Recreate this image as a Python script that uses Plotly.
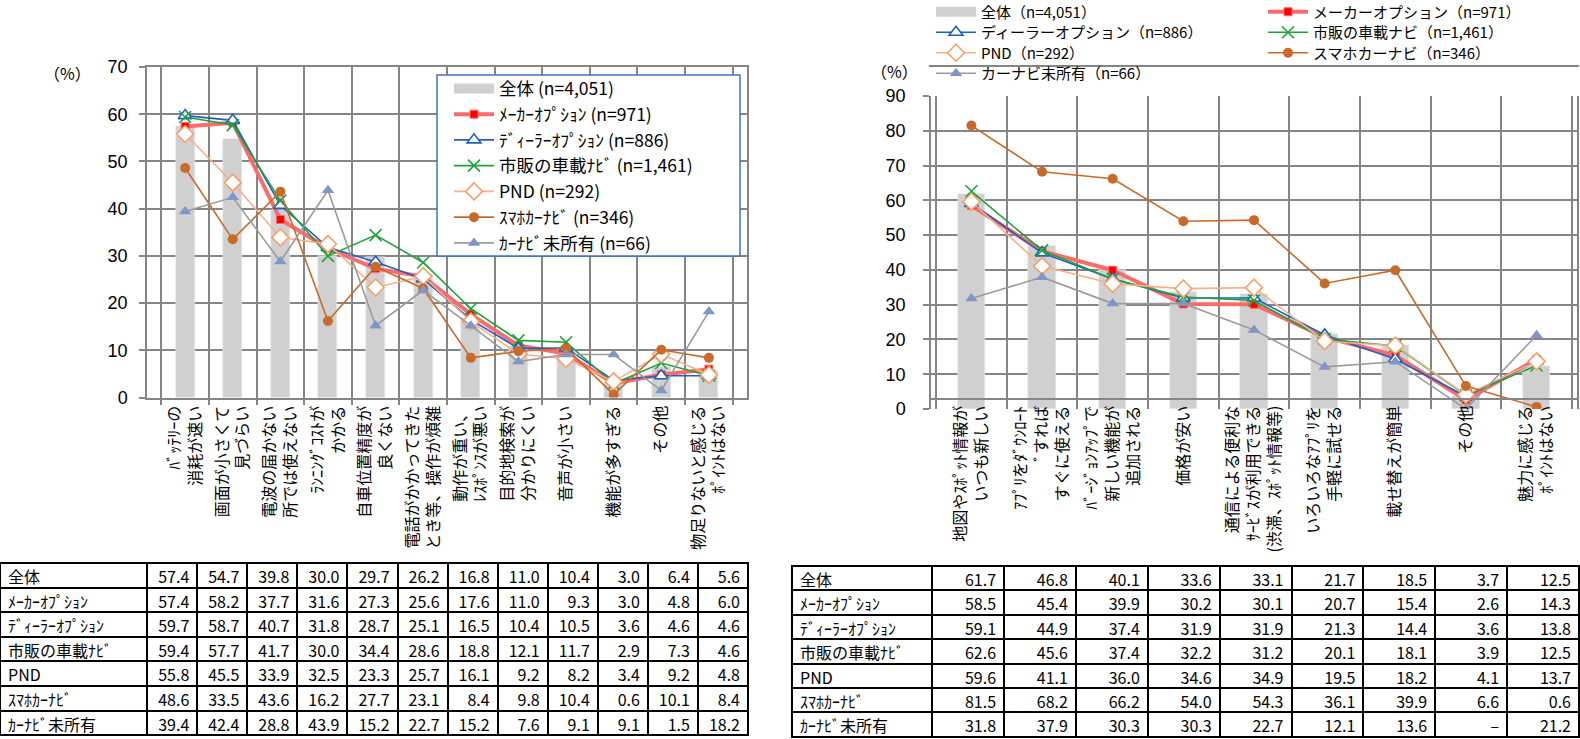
import plotly.graph_objects as go

W, H = 1580, 739

# ---------------- data ----------------
left_cats = [
    "ﾊﾞｯﾃﾘｰの<br>消耗が速い",
    "画面が小さくて<br>見づらい",
    "電波の届かない<br>所では使えない",
    "ﾗﾝﾆﾝｸﾞｺｽﾄが<br>かかる",
    "自車位置精度が<br>良くない",
    "電話がかかってきた<br>とき等、操作が煩雑",
    "動作が重い、<br>ﾚｽﾎﾟﾝｽが悪い",
    "目的地検索が<br>分かりにくい",
    "音声が小さい",
    "機能が多すぎる",
    "その他",
    "物足りないと感じる<br>ﾎﾟｲﾝﾄはない",
]
right_cats = [
    "地図やｽﾎﾟｯﾄ情報が<br>いつも新しい",
    "ｱﾌﾟﾘをﾀﾞｳﾝﾛｰﾄ<br>ﾞすれば<br>すぐに使える",
    "ﾊﾞｰｼﾞｮﾝｱｯﾌﾟで<br>新しい機能が<br>追加される",
    "価格が安い",
    "通信による便利な<br>ｻｰﾋﾞｽが利用できる<br>(渋滞、ｽﾎﾟｯﾄ情報等)",
    "いろいろなｱﾌﾟﾘを<br>手軽に試せる",
    "載せ替えが簡単",
    "その他",
    "魅力に感じる<br>ﾎﾟｲﾝﾄはない",
]

row_labels = ["全体", "ﾒｰｶｰｵﾌﾟｼｮﾝ", "ﾃﾞｨｰﾗｰｵﾌﾟｼｮﾝ", "市販の車載ﾅﾋﾞ", "PND", "ｽﾏﾎｶｰﾅﾋﾞ", "ｶｰﾅﾋﾞ未所有"]
left_legend_labels = ["全体", "ﾒｰｶｰｵﾌﾟｼｮﾝ", "ﾃﾞｨｰﾗｰｵﾌﾟｼｮﾝ", "市販の車載ﾅﾋﾞ", "PND", "ｽﾏﾎｶｰﾅﾋﾞ", "ｶｰﾅﾋﾞ未所有"]
right_legend_labels = ["全体", "メーカーオプション", "ディーラーオプション", "市販の車載ナビ", "PND", "スマホカーナビ", "カーナビ未所有"]
sample_n = [4051, 971, 886, 1461, 292, 346, 66]

left_total = [57.4, 54.7, 39.8, 30.0, 29.7, 26.2, 16.8, 11.0, 10.4, 3.0, 6.4, 5.6]
left_maker = [57.4, 58.2, 37.7, 31.6, 27.3, 25.6, 17.6, 11.0, 9.3, 3.0, 4.8, 6.0]
left_dealer = [59.7, 58.7, 40.7, 31.8, 28.7, 25.1, 16.5, 10.4, 10.5, 3.6, 4.6, 4.6]
left_aftermarket = [59.4, 57.7, 41.7, 30.0, 34.4, 28.6, 18.8, 12.1, 11.7, 2.9, 7.3, 4.6]
left_pnd = [55.8, 45.5, 33.9, 32.5, 23.3, 25.7, 16.1, 9.2, 8.2, 3.4, 9.2, 4.8]
left_smartphone = [48.6, 33.5, 43.6, 16.2, 27.7, 23.1, 8.4, 9.8, 10.4, 0.6, 10.1, 8.4]
left_nonowner = [39.4, 42.4, 28.8, 43.9, 15.2, 22.7, 15.2, 7.6, 9.1, 9.1, 1.5, 18.2]

right_total = [61.7, 46.8, 40.1, 33.6, 33.1, 21.7, 18.5, 3.7, 12.5]
right_maker = [58.5, 45.4, 39.9, 30.2, 30.1, 20.7, 15.4, 2.6, 14.3]
right_dealer = [59.1, 44.9, 37.4, 31.9, 31.9, 21.3, 14.4, 3.6, 13.8]
right_aftermarket = [62.6, 45.6, 37.4, 32.2, 31.2, 20.1, 18.1, 3.9, 12.5]
right_pnd = [59.6, 41.1, 36.0, 34.6, 34.9, 19.5, 18.2, 4.1, 13.7]
right_smartphone = [81.5, 68.2, 66.2, 54.0, 54.3, 36.1, 39.9, 6.6, 0.6]
right_nonowner = [31.8, 37.9, 30.3, 30.3, 22.7, 12.1, 13.6, 0.0, 21.2]  # 0.0 shown as "–" in table

left_series = [left_total, left_maker, left_dealer, left_aftermarket, left_pnd, left_smartphone, left_nonowner]
right_series = [right_total, right_maker, right_dealer, right_aftermarket, right_pnd, right_smartphone, right_nonowner]

# ---------------- styles ----------------
JP = "Noto Sans CJK JP"
NUM = "Liberation Sans"
BAR = "#d0d0d0"
GRID = "#858585"
styles = [
    dict(line=dict(color="#ff6b6b", width=4),
         marker=dict(symbol="square", size=8, color="#ff0000", line=dict(color="#ff6b6b", width=1))),
    dict(line=dict(color="#1f5fbf", width=1.6),
         marker=dict(symbol="triangle-up", size=12, color="white", line=dict(color="#1f5fbf", width=1.6))),
    dict(line=dict(color="#1fa33a", width=1.6),
         marker=dict(symbol="x-thin", size=12, color="#1fa33a", line=dict(color="#1fa33a", width=1.6))),
    dict(line=dict(color="#f8b088", width=1.6),
         marker=dict(symbol="diamond", size=13, color="white", line=dict(color="#f7a069", width=1.6))),
    dict(line=dict(color="#c96a2a", width=1.6),
         marker=dict(symbol="circle", size=10, color="#c96a2a")),
    dict(line=dict(color="#9a9a9a", width=1.6),
         marker=dict(symbol="triangle-up", size=11, color="#7f96c6")),
]

fig = go.Figure()

# ---------- left chart ----------
fig.add_trace(go.Scatter(x=[None], y=[None], mode="lines", line=dict(color=BAR, width=10),
                         name=f"{left_legend_labels[0]} (n={sample_n[0]:,})", legend="legend",
                         xaxis="x", yaxis="y", hoverinfo="skip"))
fig.add_trace(go.Bar(x=left_cats, y=left_total, marker_color=BAR, width=0.4, showlegend=False,
                     xaxis="x", yaxis="y"))
for i, st in enumerate(styles, start=1):
    fig.add_trace(go.Scatter(x=left_cats, y=left_series[i], mode="lines+markers",
                             name=f"{left_legend_labels[i]} (n={sample_n[i]:,})",
                             legend="legend", xaxis="x", yaxis="y", **st))

# ---------- right chart ----------
fig.add_trace(go.Scatter(x=[None], y=[None], mode="lines", line=dict(color=BAR, width=10),
                         name=f"{right_legend_labels[0]}（n={sample_n[0]:,}）", legend="legend2",
                         xaxis="x2", yaxis="y2", hoverinfo="skip"))
fig.add_trace(go.Bar(x=right_cats, y=right_total, marker_color=BAR, width=0.39, showlegend=False,
                     xaxis="x2", yaxis="y2"))
for i, st in enumerate(styles, start=1):
    fig.add_trace(go.Scatter(x=right_cats, y=right_series[i], mode="lines+markers",
                             name=f"{right_legend_labels[i]}（n={sample_n[i]:,}）",
                             legend=f"legend{i + 2}", xaxis="x2", yaxis="y2", **st))

# ---------- tables ----------
def fmt(v):
    return "–" if v == 0 else f"{v:.1f}"

def make_table(series, cats_n, x0, x1, top, rowh, labw, colw):
    cols_text = [row_labels] + [[fmt(s[j]) for s in series] for j in range(cats_n)]
    header_vals = [c[0] for c in cols_text]
    cell_vals = [c[1:] for c in cols_text]
    align = ["left"] + ["right"] * cats_n
    common_font = dict(family=JP, size=16, color="black")
    return go.Table(
        domain=dict(x=[x0 / W, x1 / W], y=[0, 1 - top / H]),
        columnwidth=[labw] + [colw] * cats_n,
        header=dict(values=header_vals, height=rowh, align=align,
                    line=dict(color="black", width=2), fill=dict(color="white"), font=common_font),
        cells=dict(values=cell_vals, height=rowh, align=align,
                   line=dict(color="black", width=2), fill=dict(color="white"), font=common_font),
    )

fig.add_trace(make_table(left_series, len(left_cats), 0, 748, 563, 24.6, 147, 50))
fig.add_trace(make_table(right_series, len(right_cats), 792, 1579, 566, 24.4, 140, 71.8))

# ---------- layout ----------
def xax(domain, fs):
    return dict(domain=domain, type="category", tickson="boundaries", showgrid=True,
                gridcolor=GRID, gridwidth=1.5, ticks="outside", ticklen=6, tickcolor=GRID,
                tickwidth=1.5, showline=True, linecolor=GRID, linewidth=1.5, mirror=True,
                tickangle=-90, tickfont=dict(family=JP, size=fs, color="black"), fixedrange=True)

def yax(domain, rng, anchor, fs, fam, standoff):
    return dict(domain=domain, range=rng, dtick=10, showgrid=True, gridcolor=GRID, gridwidth=1.5,
                ticks="outside", ticklen=6, tickcolor=GRID, tickwidth=1.5, showline=True,
                linecolor=GRID, linewidth=1.5, mirror=True, anchor=anchor, zeroline=False,
                tickfont=dict(family=fam, size=fs, color="black"), ticklabelstandoff=standoff,
                fixedrange=True)

legend_common = dict(bgcolor="rgba(255,255,255,0)", borderwidth=0, tracegroupgap=0, itemwidth=40,
                     font=dict(family=JP, size=15, color="black"), xanchor="left", yanchor="middle")

layout = dict(
    width=W, height=H, margin=dict(l=0, r=0, t=0, b=0, autoexpand=False),
    paper_bgcolor="white", plot_bgcolor="white", showlegend=True, bargap=0,
    xaxis=xax([147 / W, 747 / W], 16),
    yaxis=yax([1 - 397.5 / H, 1 - 67 / H], [0, 70], "x", 18, NUM, 8),
    xaxis2=xax([931 / W, 1577 / W], 16),
    yaxis2=yax([1 - 409 / H, 1 - 96 / H], [0, 90], "x2", 18, "Liberation Sans Narrow, Liberation Sans", 14),
    legend=dict(x=449 / W, y=1 - 70.5 / H, xanchor="left", yanchor="top",
                bgcolor="rgba(255,255,255,0)", borderwidth=0, tracegroupgap=0, itemwidth=40,
                font=dict(family=JP, size=17.5, color="black")),
    shapes=[
        dict(type="rect", xref="paper", yref="paper", x0=437 / W, x1=740 / W,
             y0=1 - 256 / H, y1=1 - 75 / H, line=dict(color="#4472c4", width=1.5),
             fillcolor="white", layer="above"),
    ],
    annotations=[
        dict(text="（%）", x=67 / W, y=1 - 73 / H, xref="paper", yref="paper", showarrow=False,
             xanchor="center", yanchor="middle", font=dict(family=JP, size=16, color="black")),
        dict(text="（%）", x=894 / W, y=1 - 71 / H, xref="paper", yref="paper", showarrow=False,
             xanchor="center", yanchor="middle", font=dict(family=JP, size=16, color="black")),
    ],
)

col_x = [931, 1263]
row_y = [12, 32.5, 53, 73.5]
for k in range(7):
    col = k % 2
    row = k // 2
    key = "legend2" if k == 0 else f"legend{k + 2}"
    layout[key] = dict(legend_common, x=col_x[col] / W, y=1 - row_y[row] / H)

fig.update_layout(**layout)
fig.write_html("out.html", config={"displayModeBar": False},
               post_script="document.body.style.margin='0px';document.body.style.overflow='hidden';")
